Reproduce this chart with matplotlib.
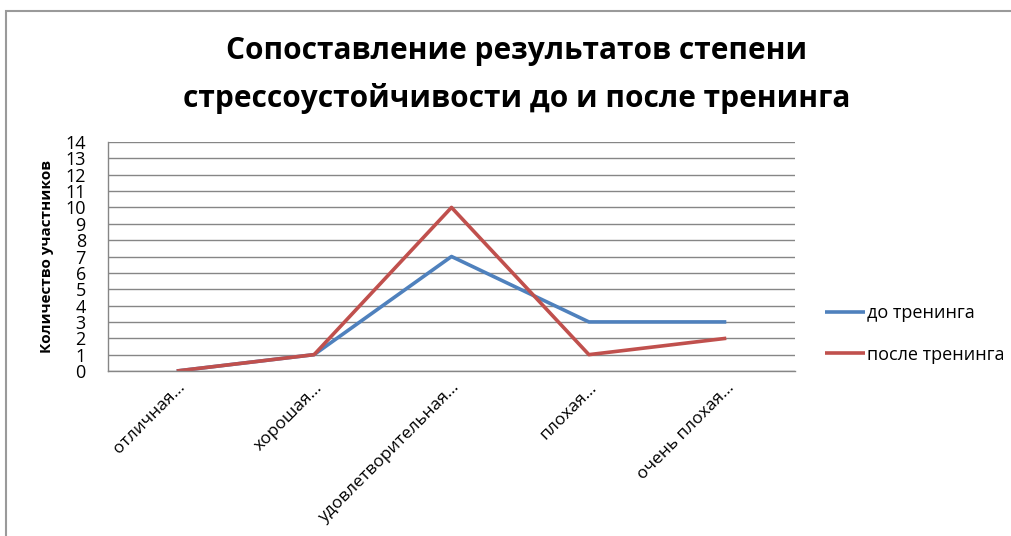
import matplotlib
matplotlib.use('Agg')
import matplotlib.pyplot as plt
import matplotlib.patches as mpatches
import numpy as np

plt.rcParams['font.family'] = ['Open Sans', 'DejaVu Sans']

categories = ['отличная...', 'хорошая...', 'удовлетворительная...', 'плохая...', 'очень плохая...']
before = [0, 1, 7, 3, 3]
after = [0, 1, 10, 1, 2]
series_names = ['до тренинга', 'после тренинга']
title_lines = ['Сопоставление результатов степени', 'стрессоустойчивости до и после тренинга']
ylabel = 'Количество участников'

W, H = 1011, 536
fig = plt.figure(figsize=(W / 100, H / 100), dpi=100)
fig.patch.set_facecolor('white')

# outer chart frame (only left and top edges visible in reference)
fig.add_artist(mpatches.Rectangle((6 / W, -0.1), 1.2, (H - 11) / H + 0.1,
                                  transform=fig.transFigure, fill=False,
                                  edgecolor='#9a9a9a', linewidth=1.5))

ax = fig.add_axes([108 / W, (H - 371) / H, (795 - 108) / W, (371 - 142) / H])
x = np.arange(len(categories))
ax.plot(x, before, color='#4F81BD', linewidth=2.6, label=series_names[0], solid_capstyle='butt')
ax.plot(x, after, color='#C0504D', linewidth=2.6, label=series_names[1], solid_capstyle='butt')

ax.set_xlim(-0.5, len(categories) - 0.5)
ax.set_ylim(0, 14)
ax.set_yticks(range(0, 15))
ax.yaxis.grid(True, color='#868686', linewidth=1)
ax.set_axisbelow(True)
for s in ['top', 'right']:
    ax.spines[s].set_visible(False)
for s in ['left', 'bottom']:
    ax.spines[s].set_color('#868686')
    ax.spines[s].set_linewidth(1)

ax.tick_params(axis='y', length=0, pad=16, labelsize=13)
ax.tick_params(axis='x', length=0, pad=6)
ax.set_xticks(x)
ax.set_xticklabels(categories, rotation=45, ha='right', rotation_mode='anchor', fontsize=12.5)
ax.set_ylabel(ylabel, fontsize=11, fontweight='bold', labelpad=8)

for i, line in enumerate(title_lines):
    fig.text(517 / W, 1 - (51 + 47 * i) / H, line, ha='center', va='center',
             fontsize=21.5, fontweight='bold')

fig.legend(loc='center left', bbox_to_anchor=(809 / W, 1 - 334 / H), frameon=False,
           fontsize=13, handlelength=2.2, handletextpad=0.1, labelspacing=1.3)

plt.savefig('out.png', dpi=100, facecolor=fig.get_facecolor())
